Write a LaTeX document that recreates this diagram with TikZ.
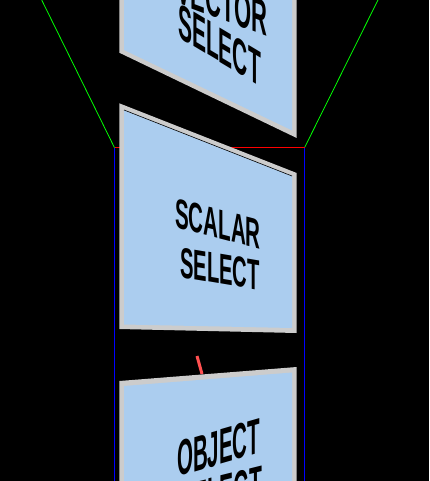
\documentclass[tikz,border=0pt]{standalone}
\usepackage{fontspec}
\newfontfamily\signfont{Liberation Sans}
\usepackage{xcolor}
\definecolor{rimgray}{RGB}{204,204,204}
\definecolor{faceblue}{RGB}{171,205,239}
\definecolor{stubred}{RGB}{255,80,80}
\tikzset{
  panelrim/.style={fill=rimgray},
  panelface/.style={fill=faceblue},
  signtext/.style={font=\signfont\bfseries\fontsize{#1}{#1}\selectfont,
    anchor=base west, inner sep=0pt, text=black}
}

\begin{document}
\begin{tikzpicture}[x=1pt, y=-1pt]
  % Background
  \fill[black] (0, 0) rectangle (429, 481);
  \useasboundingbox (0, 0) rectangle (429, 481);
  \clip (0, 0) rectangle (429, 481);

  % View frustum
  \draw[green, line width=0.8pt] (41.7, 0) -- (114.5, 147.7);
  \draw[green, line width=0.8pt] (378, 0) -- (304.5, 147.7);
  \draw[red, line width=1.2pt] (114.5, 147.7) -- (304.5, 147.7);
  \draw[blue, line width=1.2pt] (114.5, 147.7) -- (114.5, 481);
  \draw[blue, line width=1.2pt] (304.5, 147.7) -- (304.5, 481);

  % Vector select panel
  \fill[panelrim] (119.3, -10) -- (119.3, 52.7) -- (296.7, 138) -- (296.7, -10) -- cycle;
  \fill[panelface] (124, -10) -- (124, 50) -- (292, 130.4) -- (292, -10) -- cycle;
  \node[signtext=50, yslant=-0.375, xscale=0.44] at (176, 2.6) {VECTOR};
  \node[signtext=50, yslant=-0.6, xscale=0.42] at (178, 37) {SELECT};

  % Scalar select panel
  \fill[panelrim] (119.3, 103.3) -- (296.7, 173) -- (296.7, 333) -- (119.3, 329) -- cycle;
  \fill[panelface] (124, 110) -- (292, 176) -- (292, 328) -- (124, 324.5) -- cycle;
  \draw[black, line width=0.6pt] (124, 110) -- (292, 176);
  \node[signtext=42, yslant=-0.26, xscale=0.49] at (175, 227) {SCALAR};
  \node[signtext=43, yslant=-0.17, xscale=0.47] at (180, 277) {SELECT};

  % Stub
  \draw[stubred, line width=3pt] (197, 356) -- (202, 374);

  % Object select panel
  \fill[panelrim] (119.3, 381) -- (296.7, 367) -- (296.7, 490) -- (119.3, 490) -- cycle;
  \fill[panelface] (124, 386) -- (292, 372.5) -- (292, 490) -- (124, 490) -- cycle;
  \node[signtext=50, yslant=0.29, xscale=0.41] at (177, 477) {OBJECT};
  \node[signtext=50, yslant=0.25, xscale=0.42] at (179, 521) {SELECT};
\end{tikzpicture}
\end{document}
